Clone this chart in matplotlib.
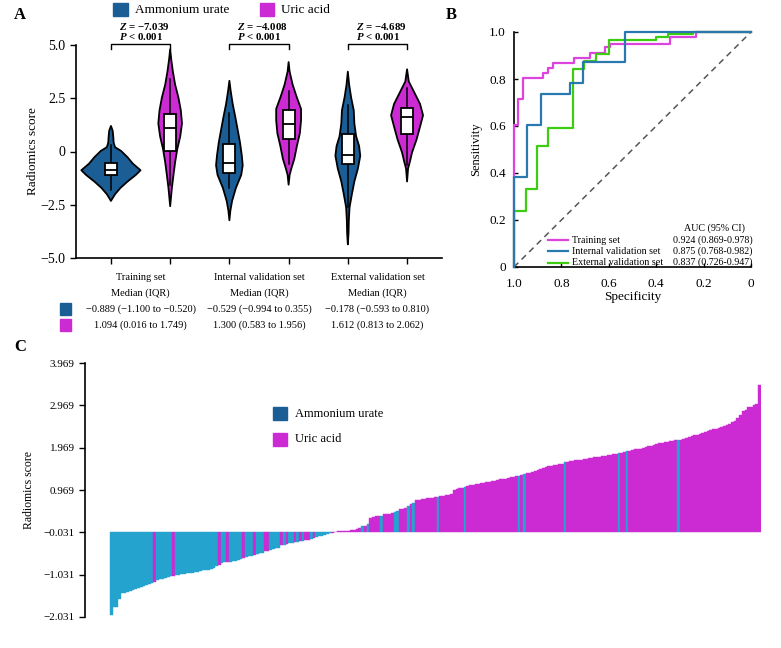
import numpy as np
import matplotlib
matplotlib.use('Agg')
import matplotlib.pyplot as plt
import matplotlib.transforms as mtransforms
from matplotlib.patches import Rectangle, Polygon

plt.rcParams['font.family'] = ['Liberation Serif', 'DejaVu Serif']
plt.rcParams['mathtext.fontset'] = 'custom'
plt.rcParams['mathtext.it'] = 'Liberation Serif:italic:bold'
plt.rcParams['mathtext.rm'] = 'Liberation Serif:bold'

BLUE = '#1b5e96'
MAGENTA = '#cc2ad2'
CYAN = '#24a3cf'
MINUS = '\u2212'

# ---------------- panel A data ----------------
set_names = ['Training set', 'Internal validation set', 'External validation set']
z_stats = [-7.039, -4.008, -4.689]

amm_median = [-0.889, -0.529, -0.178]
amm_q1 = [-1.100, -0.994, -0.593]
amm_q3 = [-0.520, 0.355, 0.810]
uric_median = [1.094, 1.300, 1.612]
uric_q1 = [0.016, 0.583, 0.813]
uric_q3 = [1.749, 1.956, 2.062]

amm_whisk = [(-1.80, 0.30), (-1.70, 1.80), (-2.60, 2.20)]
uric_whisk = [(-1.56, 3.40), (-0.60, 2.85), (-0.65, 2.99)]

# violin outlines: score levels and half widths
amm_vy = [
    [1.2, 0.98, 0.7, 0.41, 0.2, 0.03, -0.27, -0.57, -0.88, -1.1, -1.41, -1.71, -2.01, -2.32],
    [3.32, 2.84, 2.23, 1.62, 1.02, 0.41, -0.2, -0.65, -1.1, -1.71, -2.32, -2.77, -3.23],
    [3.75, 3.14, 2.53, 1.93, 1.32, 0.71, 0.26, -0.2, -0.8, -1.41, -2.01, -2.62, -3.23, -3.83, -4.36],
]
amm_vw = [
    [0.0, 0.029, 0.039, 0.046, 0.07, 0.17, 0.28, 0.37, 0.50, 0.42, 0.28, 0.16, 0.068, 0.0],
    [0.0, 0.022, 0.056, 0.10, 0.14, 0.18, 0.21, 0.225, 0.20, 0.11, 0.046, 0.017, 0.0],
    [0.0, 0.022, 0.056, 0.10, 0.11, 0.14, 0.19, 0.21, 0.17, 0.11, 0.068, 0.029, 0.017, 0.012, 0.0],
]
uric_vy = [
    [4.8, 4.35, 3.75, 3.14, 2.53, 1.93, 1.32, 0.71, 0.11, -0.5, -1.1, -1.71, -2.57],
    [4.2, 3.75, 3.14, 2.53, 2.0, 1.47, 0.86, 0.26, -0.35, -0.8, -1.1, -1.56],
    [3.86, 3.29, 2.84, 2.23, 1.7, 1.17, 0.56, -0.05, -0.5, -0.8, -1.41],
]
uric_vw = [
    [0.0, 0.017, 0.046, 0.084, 0.14, 0.18, 0.20, 0.17, 0.12, 0.084, 0.056, 0.029, 0.0],
    [0.0, 0.017, 0.068, 0.14, 0.21, 0.21, 0.19, 0.14, 0.096, 0.046, 0.017, 0.0],
    [0.0, 0.029, 0.11, 0.22, 0.27, 0.22, 0.16, 0.084, 0.046, 0.017, 0.0],
]

# ---------------- panel B data ----------------
roc_names = ['Training set', 'Internal validation set', 'External validation set']
roc_auc = ['0.924 (0.869-0.978)', '0.875 (0.768-0.982)', '0.837 (0.726-0.947)']
roc_colors = ['#dd44dd', '#2a78b0', '#3ccc10']
train_spec = [1.0, 0.982, 0.961, 0.877, 0.856, 0.835, 0.748, 0.68, 0.617, 0.596, 0.34, 0.232, 0.0]
train_sens = [0.0, 0.603, 0.713, 0.804, 0.826, 0.847, 0.87, 0.89, 0.912, 0.935, 0.95, 0.979, 1.0]
int_spec = [1.0, 0.945, 0.884, 0.765, 0.708, 0.53, 0.0]
int_sens = [0.0, 0.383, 0.606, 0.738, 0.783, 0.872, 1.0]
ext_spec = [1.0, 0.951, 0.903, 0.856, 0.75, 0.704, 0.652, 0.6, 0.4, 0.35, 0.246, 0.0]
ext_sens = [0.0, 0.237, 0.33, 0.515, 0.593, 0.841, 0.877, 0.908, 0.965, 0.979, 0.99, 1.0]

# ---------------- panel C data ----------------
cutoff = -0.031
score_minus_cutoff = [
    -1.95, -1.76, -1.76, -1.58, -1.44, -1.43, -1.41, -1.38, -1.36, -1.33,
    -1.31, -1.28, -1.26, -1.24, -1.21, -1.19, -1.18, -1.13, -1.11, -1.10,
    -1.08, -1.06, -1.04, -1.02, -1.01, -1.00, -0.99, -0.98, -0.97, -0.96,
    -0.95, -0.94, -0.93, -0.92, -0.90, -0.89, -0.88, -0.87, -0.85, -0.80,
    -0.76, -0.73, -0.71, -0.71, -0.69, -0.68, -0.67, -0.66, -0.64, -0.60,
    -0.58, -0.57, -0.55, -0.53, -0.51, -0.49, -0.48, -0.45, -0.45, -0.41,
    -0.39, -0.38, -0.36, -0.31, -0.30, -0.28, -0.26, -0.25, -0.24, -0.23,
    -0.21, -0.20, -0.19, -0.18, -0.15, -0.13, -0.11, -0.09, -0.08, -0.06,
    -0.04, -0.02, -0.01, 0.01, 0.02, 0.02, 0.03, 0.03, 0.04, 0.05,
    0.06, 0.08, 0.10, 0.14, 0.16, 0.20, 0.34, 0.37, 0.38, 0.39,
    0.39, 0.43, 0.43, 0.44, 0.45, 0.49, 0.50, 0.55, 0.56, 0.58,
    0.63, 0.68, 0.69, 0.76, 0.77, 0.78, 0.79, 0.80, 0.81, 0.82,
    0.83, 0.84, 0.86, 0.87, 0.88, 0.89, 0.90, 0.99, 1.03, 1.04,
    1.05, 1.06, 1.10, 1.11, 1.12, 1.13, 1.14, 1.16, 1.17, 1.18,
    1.20, 1.21, 1.22, 1.23, 1.25, 1.26, 1.27, 1.28, 1.30, 1.31,
    1.32, 1.34, 1.36, 1.38, 1.39, 1.41, 1.43, 1.46, 1.48, 1.50,
    1.52, 1.54, 1.56, 1.57, 1.58, 1.59, 1.61, 1.62, 1.65, 1.67,
    1.68, 1.69, 1.70, 1.71, 1.72, 1.73, 1.74, 1.75, 1.76, 1.77,
    1.78, 1.79, 1.80, 1.81, 1.82, 1.83, 1.84, 1.86, 1.87, 1.88,
    1.89, 1.91, 1.92, 1.94, 1.96, 1.97, 1.98, 2.00, 2.02, 2.04,
    2.05, 2.07, 2.09, 2.10, 2.12, 2.13, 2.14, 2.15, 2.16, 2.17,
    2.17, 2.18, 2.20, 2.22, 2.25, 2.27, 2.29, 2.31, 2.33, 2.35,
    2.37, 2.39, 2.41, 2.43, 2.45, 2.47, 2.49, 2.51, 2.53, 2.56,
    2.60, 2.64, 2.70, 2.76, 2.87, 2.88, 2.95, 2.97, 3.00, 3.02,
    3.49,
]
# bars are ammonium urate below index 82 and uric acid above, except these
uric_in_low = [16, 23, 40, 43, 49, 53, 57, 58, 63, 65, 68, 70, 72, 73, 75]
ammonium_in_high = [93, 95, 100, 105, 106, 110, 112, 121, 131, 151, 153, 168, 188, 191, 210]
split_index = 82


def fmt(v):
    return f'{v:.3f}'.replace('-', MINUS)


W, H = 781, 648
fig = plt.figure(figsize=(W / 100, H / 100), dpi=100)


def fx(px):
    return px / W


def fy(py):
    return 1 - py / H


# ================= Panel A =================
axA = fig.add_axes([fx(76), fy(258), fx(442) - fx(76), fy(45) - fy(258)])
for i in range(3):
    for pos, vy, vw, q1, q3, med, wk, col in [
        (2 * i, amm_vy[i], amm_vw[i], amm_q1[i], amm_q3[i], amm_median[i], amm_whisk[i], BLUE),
        (2 * i + 1, uric_vy[i], uric_vw[i], uric_q1[i], uric_q3[i], uric_median[i], uric_whisk[i], MAGENTA),
    ]:
        vy = np.array(vy)
        vw = np.array(vw)
        xs = np.concatenate([pos - vw, (pos + vw)[::-1]])
        ys = np.concatenate([vy, vy[::-1]])
        axA.add_patch(Polygon(np.column_stack([xs, ys]), closed=True, facecolor=col,
                              edgecolor='black', lw=1.3, joinstyle='round', zorder=2))
        axA.plot([pos, pos], wk, color='black', lw=1.1, zorder=3)
        axA.add_patch(Rectangle((pos - 0.1, q1), 0.2, q3 - q1, facecolor='white',
                                edgecolor='black', lw=1.3, zorder=4))
        axA.plot([pos - 0.1, pos + 0.1], [med, med], color='black', lw=1.3, zorder=5)

    # significance bracket
    left = 2 * i
    axA.plot([left, left, left + 1, left + 1], [4.82, 5.07, 5.07, 4.82], color='black',
             lw=1.0, clip_on=False)
    axA.text(left + 0.13, 5.89, r'$Z$ = ' + fmt(z_stats[i]), fontsize=7.8, fontweight='bold',
             va='center', ha='left', clip_on=False)
    axA.text(left + 0.13, 5.38, r'$P$ < 0.001', fontsize=7.8, fontweight='bold',
             va='center', ha='left', clip_on=False)

axA.set_xlim(-0.59, 5.59)
axA.set_ylim(-5, 5)
axA.set_xticks(range(6))
axA.set_xticklabels([])
axA.set_yticks([5, 2.5, 0, -2.5, -5])
axA.set_yticklabels(['5.0', '2.5', '0', MINUS + '2.5', MINUS + '5.0'])
axA.tick_params(direction='out', length=4, width=1.0, labelsize=10)
for s in ['top', 'right']:
    axA.spines[s].set_visible(False)
for s in ['left', 'bottom']:
    axA.spines[s].set_linewidth(1.2)
axA.set_ylabel('Radiomics score', fontsize=9.5, labelpad=1)

# table under panel A
tbl = mtransforms.blended_transform_factory(axA.transData, fig.transFigure)
for i in range(3):
    cx = 2 * i + 0.5
    axA.text(cx, fy(277), set_names[i], transform=tbl, ha='center', va='center', fontsize=7.5)
    axA.text(cx, fy(293), 'Median (IQR)', transform=tbl, ha='center', va='center', fontsize=7.5)
    axA.text(cx, fy(309), f'{fmt(amm_median[i])} ({fmt(amm_q1[i])} to {fmt(amm_q3[i])})',
             transform=tbl, ha='center', va='center', fontsize=7.5)
    axA.text(cx, fy(325), f'{fmt(uric_median[i])} ({fmt(uric_q1[i])} to {fmt(uric_q3[i])})',
             transform=tbl, ha='center', va='center', fontsize=7.5)
fig.patches.append(Rectangle((fx(60), fy(315)), fx(11), 12 / H, color=BLUE, transform=fig.transFigure))
fig.patches.append(Rectangle((fx(60), fy(331)), fx(11), 12 / H, color=MAGENTA, transform=fig.transFigure))

# legend on top of panel A
fig.patches.append(Rectangle((fx(113), fy(16)), fx(15), 13 / H, color=BLUE, transform=fig.transFigure))
fig.text(fx(135), fy(10), 'Ammonium urate', fontsize=9.5, va='center', ha='left')
fig.patches.append(Rectangle((fx(260), fy(16)), fx(14), 13 / H, color=MAGENTA, transform=fig.transFigure))
fig.text(fx(281), fy(10), 'Uric acid', fontsize=9.5, va='center', ha='left')

fig.text(fx(14), fy(15), 'A', fontsize=12, fontweight='bold', va='center', ha='left')
fig.text(fx(446), fy(15), 'B', fontsize=12, fontweight='bold', va='center', ha='left')
fig.text(fx(14), fy(347), 'C', fontsize=12, fontweight='bold', va='center', ha='left')

# ================= Panel B =================
axB = fig.add_axes([fx(514), fy(267), fx(751) - fx(514), fy(32) - fy(267)])
axB.plot([1, 0], [0, 1], color='#555555', lw=1.1, ls=(0, (4, 3)))
for spec, sens, c in [(train_spec, train_sens, roc_colors[0]),
                      (ext_spec, ext_sens, roc_colors[2]),
                      (int_spec, int_sens, roc_colors[1])]:
    axB.plot(spec, sens, drawstyle='steps-pre', color=c, lw=1.6, clip_on=False, zorder=3)
axB.set_xlim(1.0, 0.0)
axB.set_ylim(0.0, 1.0)
axB.set_xticks([1.0, 0.8, 0.6, 0.4, 0.2, 0.0])
axB.set_xticklabels(['1.0', '0.8', '0.6', '0.4', '0.2', '0'])
axB.set_yticks([0, 0.2, 0.4, 0.6, 0.8, 1.0])
axB.set_yticklabels(['0', '0.2', '0.4', '0.6', '0.8', '1.0'])
axB.tick_params(direction='in', length=3, width=1.0, labelsize=9.5)
axB.tick_params(axis='x', pad=8)
axB.tick_params(axis='y', pad=6)
for s in ['top', 'right']:
    axB.spines[s].set_visible(False)
for s in ['left', 'bottom']:
    axB.spines[s].set_linewidth(1.2)
axB.set_xlabel('Specificity', fontsize=9.5, labelpad=1)
axB.set_ylabel('Sensitivity', fontsize=9, labelpad=5)

axB.text(0.848, 0.165, 'AUC (95% CI)', transform=axB.transAxes, ha='center', va='center', fontsize=7.2)
for k, yy in enumerate([0.113, 0.066, 0.019]):
    axB.plot([0.143, 0.228], [yy, yy], transform=axB.transAxes, color=roc_colors[k], lw=1.6,
             clip_on=False)
    axB.text(0.245, yy, roc_names[k], transform=axB.transAxes, ha='left', va='center', fontsize=7.2)
    axB.text(1.008, yy, roc_auc[k], transform=axB.transAxes, ha='right', va='center', fontsize=7.2)

# ================= Panel C =================
axC = fig.add_axes([fx(85), fy(617), fx(761) - fx(85), fy(363) - fy(617)])
n = len(score_minus_cutoff)
bar_colors = []
for i in range(n):
    if i < split_index:
        bar_colors.append(MAGENTA if i in uric_in_low else CYAN)
    else:
        bar_colors.append(CYAN if i in ammonium_in_high else MAGENTA)
axC.bar(np.arange(n), score_minus_cutoff, bottom=cutoff, width=1.0, color=bar_colors,
        edgecolor=bar_colors, linewidth=0.3, align='edge')
axC.set_xlim(-9.3, n + 0.1)
axC.set_ylim(-2.031, 3.969)
cticks = [-2.031, -1.031, -0.031, 0.969, 1.969, 2.969, 3.969]
axC.set_yticks(cticks)
axC.set_yticklabels([fmt(t) for t in cticks])
axC.set_xticks([])
axC.tick_params(direction='out', length=4, width=1.0, labelsize=8)
for s in ['top', 'right', 'bottom']:
    axC.spines[s].set_visible(False)
axC.spines['left'].set_linewidth(1.2)
axC.set_ylabel('Radiomics score', fontsize=8.5, labelpad=6)

fig.patches.append(Rectangle((fx(273), fy(420)), fx(14), 13 / H, color=BLUE, transform=fig.transFigure))
fig.text(fx(295), fy(414), 'Ammonium urate', fontsize=9, va='center', ha='left')
fig.patches.append(Rectangle((fx(273), fy(446)), fx(14), 13 / H, color=MAGENTA, transform=fig.transFigure))
fig.text(fx(295), fy(439), 'Uric acid', fontsize=9, va='center', ha='left')

fig.savefig('out.png', dpi=100)
